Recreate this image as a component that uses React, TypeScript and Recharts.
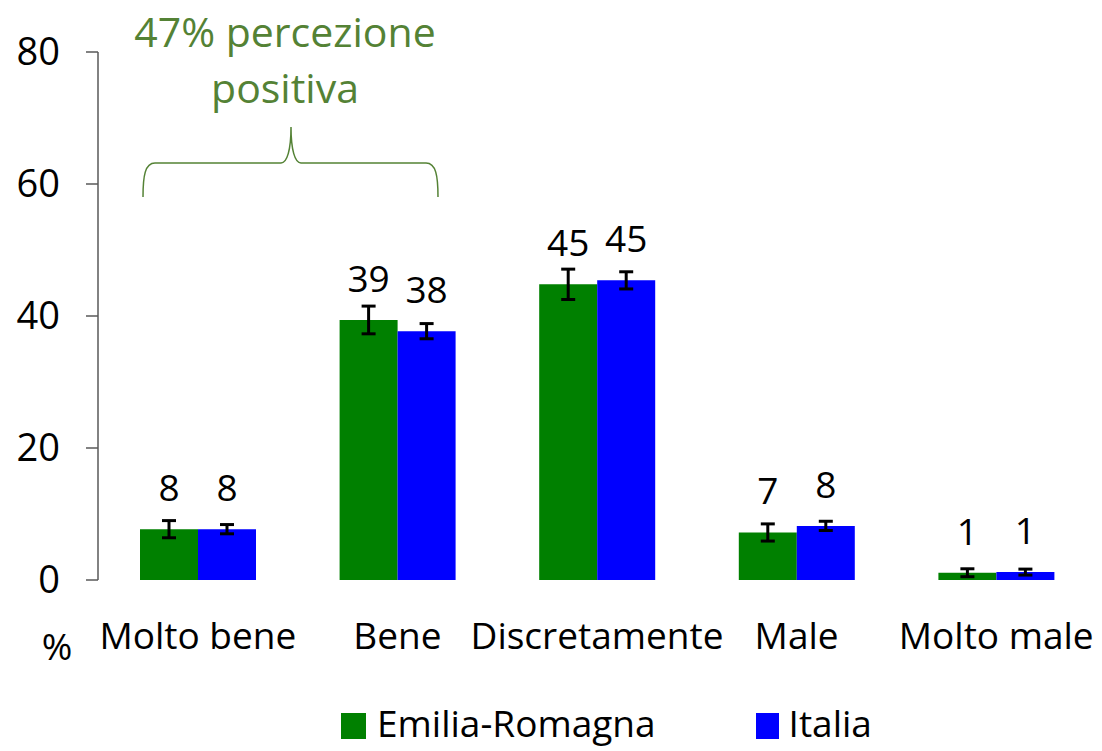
import React from 'react';
import { BarChart, Bar, XAxis, YAxis, ErrorBar, LabelList } from 'recharts';

const categories = ['Molto bene', 'Bene', 'Discretamente', 'Male', 'Molto male'];
const emiliaRomagna = [7.7, 39.4, 44.8, 7.2, 1.1];
const italia = [7.7, 37.7, 45.4, 8.2, 1.2];
const emiliaErr = [1.3, 2.1, 2.3, 1.3, 0.6];
const italiaErr = [0.7, 1.15, 1.3, 0.7, 0.45];
const yTicks = [0, 20, 40, 60, 80];

const data = categories.map((name, i) => ({
  name,
  er: emiliaRomagna[i],
  it: italia[i],
  erErr: emiliaErr[i],
  itErr: italiaErr[i],
}));

const FONT = '"Open Sans", "Noto Sans", sans-serif';
const GREEN_TEXT = '#548235';

const LegendBox = () => (
  <div
    style={{
      position: 'absolute',
      left: 341,
      top: 703,
      display: 'flex',
      alignItems: 'center',
      fontFamily: FONT,
      fontSize: 37,
      lineHeight: '40px',
      color: '#000',
    }}
  >
    <span style={{ width: 25, height: 26, background: '#008000', display: 'inline-block', marginRight: 11, marginTop: 6 }} />
    <span style={{ marginRight: 100 }}>Emilia-Romagna</span>
    <span style={{ width: 23, height: 26, background: '#0000ff', display: 'inline-block', marginRight: 10, marginTop: 6 }} />
    <span>Italia</span>
  </div>
);

export default function App() {
  return (
    <div style={{ position: 'relative', width: 1102, height: 751, overflow: 'hidden' }}>
      <style>{'body{margin:0}'}</style>
      <BarChart
        width={1102}
        height={751}
        data={data}
        margin={{ top: 52, right: 6, left: 0, bottom: 141 }}
        barGap={0}
        barSize={58}
      >
        <XAxis
          dataKey="name"
          axisLine={false}
          tickLine={false}
          tickSize={0}
          tickMargin={43}
          height={30}
          interval={0}
          tick={{ fill: '#000', fontSize: 37, fontFamily: FONT }}
        />
        <YAxis
          domain={[0, 80]}
          ticks={yTicks}
          width={98}
          tickSize={12}
          tickMargin={26}
          axisLine={{ stroke: '#595959', strokeWidth: 1.5 }}
          tickLine={{ stroke: '#595959', strokeWidth: 1.5 }}
          tick={{ fill: '#000', fontSize: 38, fontFamily: FONT }}
        />
        <Bar dataKey="er" name="Emilia-Romagna" fill="#008000" isAnimationActive={false}>
          <ErrorBar dataKey="erErr" width={7} stroke="#000" strokeWidth={3} />
          <LabelList
            dataKey="er"
            position="top"
            offset={28}
            formatter={(v: number) => Math.round(v)}
            style={{ fill: '#000', fontSize: 37, fontFamily: FONT }}
          />
        </Bar>
        <Bar dataKey="it" name="Italia" fill="#0000ff" isAnimationActive={false}>
          <ErrorBar dataKey="itErr" width={7} stroke="#000" strokeWidth={3} />
          <LabelList
            dataKey="it"
            position="top"
            offset={28}
            formatter={(v: number) => Math.round(v)}
            style={{ fill: '#000', fontSize: 37, fontFamily: FONT }}
          />
        </Bar>
      </BarChart>
      <svg
        width={1102}
        height={751}
        style={{ position: 'absolute', left: 0, top: 0, pointerEvents: 'none' }}
      >
        <path
          d="M143,197 C143,176 145,163 155,163 L281,163 C287,163 291,150 291,127 C291,150 295,163 301,163 L426,163 C436,163 438,176 438,197"
          fill="none"
          stroke={GREEN_TEXT}
          strokeWidth={1.5}
        />
        <text x={285} y={47} textAnchor="middle" fill={GREEN_TEXT} fontSize={41} fontFamily={FONT}>
          47% percezione
        </text>
        <text x={285} y={103} textAnchor="middle" fill={GREEN_TEXT} fontSize={41} fontFamily={FONT}>
          positiva
        </text>
        <text x={57} y={660} textAnchor="middle" fill="#000" fontSize={37} fontFamily={FONT}>
          %
        </text>
      </svg>
      <LegendBox />
    </div>
  );
}
